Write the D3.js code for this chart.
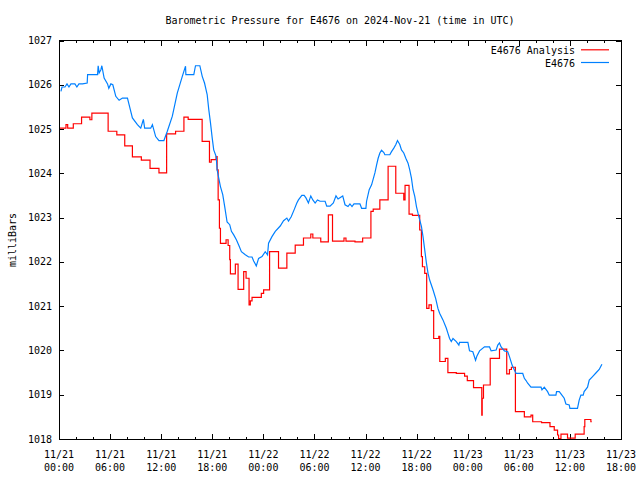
<!DOCTYPE html>
<html>
<head>
<meta charset="utf-8">
<script src="https://cdn.jsdelivr.net/npm/d3@7"></script>
<style>
  html, body { margin: 0; padding: 0; background: #fff; }
  svg { display: block; }
  text { font-family: "DejaVu Sans Mono", "Liberation Mono", monospace; font-size: 10px; fill: #000; }
</style>
</head>
<body>
<svg id="chart" width="640" height="480"></svg>
<script>
// ---------------- data (hours since 2024-11-21 00:00 UTC, pressure in mb) ----------------
const chartTitle = "Barometric Pressure for E4676 on 2024-Nov-21 (time in UTC)";
const yAxisLabel = "milliBars";
const seriesNames = ["E4676 Analysis", "E4676"];

const analysisHours = [0, 0.82, 1.02, 1.68, 2.65, 3.63, 3.86, 5.77, 6.79, 7.72, 8.62, 9.67, 10.69, 11.74, 12.64,
  13.69, 14.67, 15.17, 16.81, 17.67, 17.87, 18.45, 18.57, 18.69, 18.84, 18.96, 19.62, 19.86, 20.05, 20.13,
  20.71, 21.03, 21.69, 21.97, 22.32, 22.47, 22.67, 23.76, 24.03, 24.73, 25.78, 26.76, 27.74, 28.71, 29.57,
  29.81, 30.74, 31.63, 32.12, 33.47, 33.70, 34.76, 35.66, 36.63, 36.90, 37.68, 38.65, 39.55, 40.49, 40.64,
  41.11, 41.51, 42.36, 42.56, 42.68, 42.95, 43.18, 43.45, 43.73, 44.0, 44.6, 44.72, 45.37, 45.67, 46.66,
  47.63, 47.95, 48.68, 49.65, 49.70, 49.85, 50.64, 51.73, 52.58, 52.90, 53.13, 53.60, 54.65, 55.43, 55.63,
  56.67, 57.66, 58.16, 58.55, 58.67, 58.95, 59.72, 60.62, 61.67, 61.75, 62.46, 62.57];
const analysisPressure = [1025.02, 1025.10, 1025.02, 1025.12, 1025.27, 1025.21, 1025.36, 1024.95, 1024.87, 1024.62,
  1024.37, 1024.30, 1024.11, 1024.01, 1024.89, 1024.95, 1025.27, 1025.22, 1024.72, 1024.25, 1024.31, 1024.38,
  1024.08, 1023.40, 1022.76, 1022.42, 1022.50, 1022.37, 1022.05, 1021.73, 1021.95, 1021.38, 1021.78, 1021.63,
  1021.03, 1021.12, 1021.20, 1021.29, 1021.37, 1022.23, 1021.86, 1022.20, 1022.38, 1022.54, 1022.63, 1022.54,
  1022.45, 1023.06, 1022.47, 1022.54, 1022.47, 1022.45, 1022.54, 1023.14, 1023.19, 1023.40, 1024.16, 1023.55,
  1023.40, 1023.73, 1023.08, 1023.05, 1022.72, 1022.12, 1021.89, 1021.74, 1020.95, 1021.03, 1020.90, 1020.27,
  1020.32, 1019.75, 1019.82, 1019.50, 1019.48, 1019.42, 1019.32, 1019.16, 1018.54, 1018.92, 1019.22, 1019.82,
  1020.03, 1019.47, 1019.57, 1019.62, 1018.62, 1018.50, 1018.54, 1018.39, 1018.37, 1018.28, 1018.20, 1018.09,
  1018.01, 1018.11, 1018.02, 1018.11, 1018.28, 1018.44, 1018.39, 1018.39];

const stationHours = [0.23, 0.35, 0.70, 0.94, 1.17, 1.40, 1.87, 2.10, 2.34, 2.77, 3.31, 3.36, 4.53, 4.60, 4.72, 4.92,
  5.03, 5.30, 5.70, 5.85, 6.09, 6.32, 6.67, 7.06, 7.45, 8.04, 8.23, 8.62, 9.21, 9.60, 9.91, 10.06, 10.77, 10.97,
  11.35, 11.74, 12.32, 12.72, 13.31, 13.89, 14.48, 14.86, 14.90, 15.83, 16.03, 16.54, 16.82, 17.09, 17.40, 17.59,
  17.79, 17.99, 18.17, 18.46, 18.57, 18.76, 18.96, 19.23, 19.46, 19.74, 20.05, 20.25, 20.52, 20.83, 21.10, 21.42,
  21.88, 22.27, 22.67, 22.86, 23.17, 23.44, 23.84, 24.22, 24.49, 24.61, 25.01, 25.40, 25.98, 26.37, 26.76, 26.95,
  27.27, 27.62, 27.93, 28.12, 28.52, 28.79, 29.02, 29.29, 29.57, 29.81, 30.08, 30.35, 30.66, 31.25, 31.44, 31.83,
  32.22, 32.53, 32.77, 33.32, 33.59, 33.94, 34.17, 34.41, 34.64, 35.34, 35.54, 36.04, 36.12, 36.43, 36.71, 37.10,
  37.30, 37.48, 37.68, 37.88, 38.15, 38.27, 38.85, 39.05, 39.32, 39.56, 39.75, 40.02, 40.22, 40.49, 40.73, 40.99,
  41.19, 41.39, 41.58, 41.78, 41.98, 42.16, 42.36, 42.56, 42.75, 42.95, 43.15, 43.34, 43.53, 43.92, 44.24, 44.50,
  44.70, 45.09, 45.49, 45.67, 45.87, 46.07, 46.27, 46.66, 46.96, 47.04, 48.02, 48.21, 48.60, 48.92, 49.07, 49.39,
  49.97, 50.56, 50.75, 51.34, 51.53, 51.73, 51.92, 52.31, 52.70, 52.90, 53.21, 53.48, 53.68, 54.46, 54.65, 54.85,
  55.04, 55.43, 56.61, 56.72, 56.99, 57.38, 57.58, 58.36, 58.43, 58.75, 59.06, 59.33, 59.53, 59.92, 60.00, 60.89,
  61.09, 61.29, 61.56, 61.67, 62.07, 62.27, 62.66, 63.05, 63.44, 63.76];
const stationPressure = [1025.85, 1025.95, 1025.95, 1026.02, 1025.95, 1026.02, 1026.02, 1025.95, 1026.02, 1026.02,
  1026.04, 1026.23, 1026.23, 1026.43, 1026.27, 1026.34, 1026.43, 1026.15, 1026.02, 1025.92, 1026.02, 1026.00,
  1025.74, 1025.65, 1025.70, 1025.70, 1025.55, 1025.25, 1025.10, 1025.02, 1025.22, 1025.02, 1025.02, 1025.10,
  1024.83, 1024.74, 1024.74, 1024.95, 1025.29, 1025.81, 1026.19, 1026.42, 1026.23, 1026.23, 1026.43, 1026.43,
  1026.19, 1026.04, 1025.78, 1025.44, 1025.14, 1024.80, 1024.53, 1024.38, 1024.08, 1023.89, 1023.70, 1023.52,
  1023.25, 1022.90, 1022.84, 1022.69, 1022.61, 1022.50, 1022.38, 1022.23, 1022.16, 1022.11, 1022.11, 1022.02,
  1021.91, 1022.08, 1022.12, 1022.23, 1022.16, 1022.42, 1022.57, 1022.69, 1022.81, 1022.93, 1022.99, 1022.92,
  1023.02, 1023.18, 1023.33, 1023.40, 1023.50, 1023.50, 1023.44, 1023.33, 1023.49, 1023.40, 1023.33, 1023.40,
  1023.37, 1023.37, 1023.26, 1023.26, 1023.33, 1023.49, 1023.42, 1023.49, 1023.29, 1023.25, 1023.31, 1023.25,
  1023.31, 1023.31, 1023.21, 1023.21, 1023.37, 1023.63, 1023.74, 1024.01, 1024.19, 1024.34, 1024.46, 1024.52,
  1024.47, 1024.42, 1024.42, 1024.49, 1024.57, 1024.65, 1024.74, 1024.65, 1024.53, 1024.46, 1024.34, 1024.23,
  1024.08, 1023.89, 1023.63, 1023.48, 1023.25, 1023.10, 1022.95, 1022.80, 1022.57, 1022.27, 1021.97, 1021.74,
  1021.59, 1021.37, 1021.17, 1020.95, 1020.84, 1020.69, 1020.50, 1020.39, 1020.27, 1020.20, 1020.27, 1020.20,
  1020.12, 1020.18, 1020.18, 1019.99, 1019.97, 1019.78, 1019.87, 1019.99, 1020.08, 1020.08, 1019.99, 1020.01,
  1020.12, 1020.17, 1020.08, 1019.99, 1019.97, 1019.86, 1019.67, 1019.56, 1019.48, 1019.48, 1019.37, 1019.32,
  1019.26, 1019.17, 1019.17, 1019.11, 1019.17, 1019.07, 1018.99, 1018.99, 1019.07, 1019.07, 1018.99, 1018.92,
  1018.79, 1018.77, 1018.69, 1018.69, 1018.88, 1018.99, 1018.99, 1019.07, 1019.17, 1019.33, 1019.41, 1019.49,
  1019.57, 1019.69];

const yTicks = [1018, 1019, 1020, 1021, 1022, 1023, 1024, 1025, 1026, 1027];
const xTickHours = [0, 6, 12, 18, 24, 30, 36, 42, 48, 54, 60, 66];
const xTickDates = ["11/21", "11/21", "11/21", "11/21", "11/22", "11/22", "11/22", "11/22", "11/23", "11/23", "11/23", "11/23"];
const xTickTimes = ["00:00", "06:00", "12:00", "18:00", "00:00", "06:00", "12:00", "18:00", "00:00", "06:00", "12:00", "18:00"];
const xMinorHours = [2, 4, 8, 10, 14, 16, 20, 22, 26, 28, 32, 34, 38, 40, 44, 46, 50, 52, 56, 58, 62, 64];
const colors = ["#ff0000", "#0080ff"];

// ---------------- drawing ----------------
(function () {
const svg = d3.select("#chart");
const start = Date.UTC(2024, 10, 21, 0, 0, 0);
const toDate = h => new Date(start + h * 3600 * 1000);

const mLeft = 59, mRight = 621, mTop = 40.5, mBottom = 439;
const x = d3.scaleUtc().domain([toDate(0), toDate(66)]).range([mLeft, mRight]);
const y = d3.scaleLinear().domain([1018, 1027]).range([mBottom, mTop]);

svg.append("defs").append("clipPath").attr("id", "clip")
  .append("rect").attr("x", mLeft).attr("y", mTop).attr("width", mRight - mLeft).attr("height", mBottom - mTop);

// title
svg.append("text").attr("x", (mLeft + mRight) / 2).attr("y", 24)
  .attr("text-anchor", "middle").text(chartTitle);

// y label
svg.append("text").attr("transform", "translate(15.5,240) rotate(-90)")
  .attr("text-anchor", "middle").text(yAxisLabel);

// axes (all ticks inward)
const majorDates = xTickHours.map(toDate);
const minorDates = xMinorHours.map(toDate);
function styleAxis(g) {
  g.select(".domain").remove();
  g.selectAll("line").attr("stroke", "#000").attr("shape-rendering", "crispEdges");
  g.selectAll("text").remove();
}
svg.append("g").attr("transform", `translate(0,${mBottom})`)
  .call(d3.axisBottom(x).tickValues(majorDates).tickSize(-5).tickFormat("")).call(styleAxis);
svg.append("g").attr("transform", `translate(0,${mBottom})`)
  .call(d3.axisBottom(x).tickValues(minorDates).tickSize(-2.5).tickFormat("")).call(styleAxis);
svg.append("g").attr("transform", `translate(0,${mTop})`)
  .call(d3.axisTop(x).tickValues(majorDates).tickSize(-5).tickFormat("")).call(styleAxis);
svg.append("g").attr("transform", `translate(0,${mTop})`)
  .call(d3.axisTop(x).tickValues(minorDates).tickSize(-2.5).tickFormat("")).call(styleAxis);
svg.append("g").attr("transform", `translate(${mLeft},0)`)
  .call(d3.axisLeft(y).tickValues(yTicks).tickSize(-5).tickFormat("")).call(styleAxis);
svg.append("g").attr("transform", `translate(${mRight},0)`)
  .call(d3.axisRight(y).tickValues(yTicks).tickSize(-5).tickFormat("")).call(styleAxis);

// tick labels
svg.append("g").selectAll("text").data(yTicks).join("text")
  .attr("x", 52).attr("y", d => y(d) + 3.6).attr("text-anchor", "end").text(d => d);
const xl = svg.append("g").selectAll("text").data(xTickHours).join("text")
  .attr("text-anchor", "middle");
xl.append("tspan").attr("x", d => x(toDate(d))).attr("y", 457.5).text((d, i) => xTickDates[i]);
xl.append("tspan").attr("x", d => x(toDate(d))).attr("y", 471).text((d, i) => xTickTimes[i]);

// series
const plot = svg.append("g").attr("clip-path", "url(#clip)");
const redData = analysisHours.map((h, i) => [toDate(h), analysisPressure[i]]);
const blueData = stationHours.map((h, i) => [toDate(h), stationPressure[i]]);
plot.append("path").datum(redData)
  .attr("fill", "none").attr("stroke", colors[0]).attr("stroke-width", 1.2)
  .attr("d", d3.line().x(d => x(d[0])).y(d => y(d[1])).curve(d3.curveStepAfter));
plot.append("path").datum(blueData)
  .attr("fill", "none").attr("stroke", colors[1]).attr("stroke-width", 1.2)
  .attr("d", d3.line().x(d => x(d[0])).y(d => y(d[1])));

// frame
svg.append("rect").attr("x", mLeft).attr("y", mTop).attr("width", mRight - mLeft).attr("height", mBottom - mTop)
  .attr("fill", "none").attr("stroke", "#000").attr("stroke-width", 1).attr("shape-rendering", "crispEdges");

// legend
const legendY = [50.3, 63];
seriesNames.forEach((name, i) => {
  svg.append("text").attr("x", 575).attr("y", legendY[i] + 3.7).attr("text-anchor", "end").text(name);
  svg.append("line").attr("x1", 581).attr("x2", 609).attr("y1", legendY[i] - 0.5).attr("y2", legendY[i] - 0.5)
    .attr("stroke", colors[i]).attr("stroke-width", 1.2);
});
})();
</script>
</body>
</html>
